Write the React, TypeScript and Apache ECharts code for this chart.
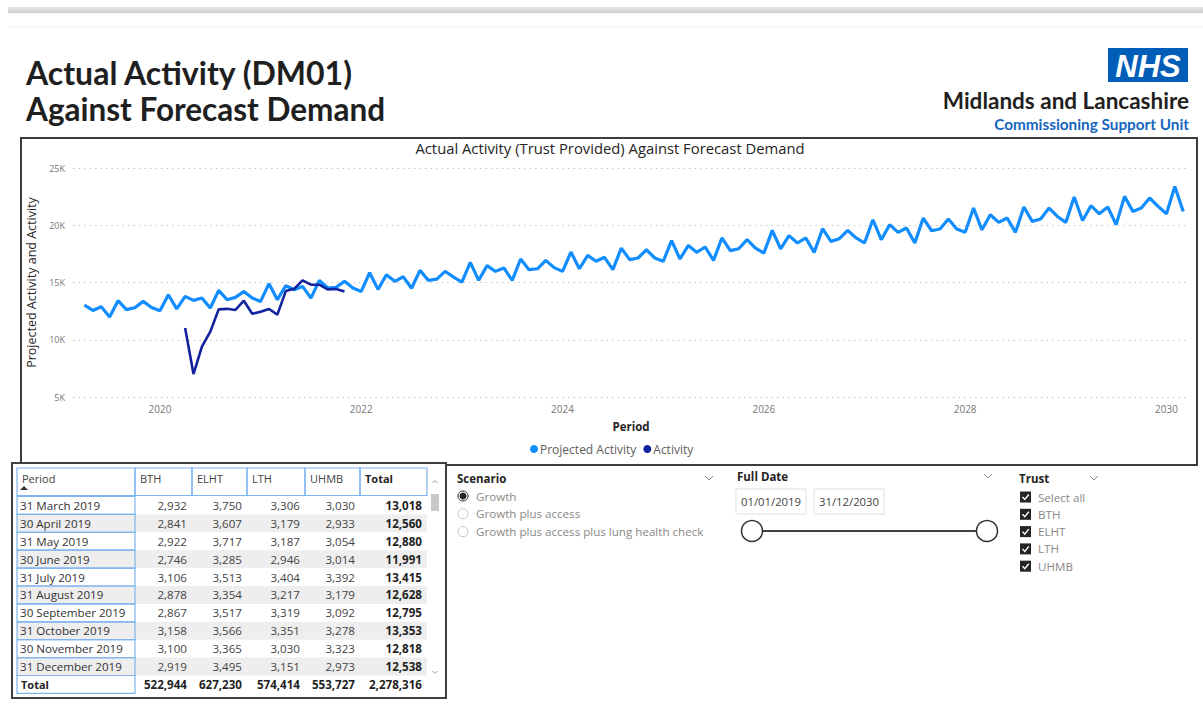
import React, { useEffect, useRef } from "react";
import * as echarts from "echarts";

// ---------- DATA ----------
// Projected activity (Growth scenario), monthly, month-end periods starting 31 March 2019
const projected2019 = [13018, 12560, 12880, 11991, 13415, 12628, 12795, 13353, 12818, 12538]; // Mar-Dec
const projected2020 = [13930, 12700, 13790, 13440, 13640, 12770, 14310, 13500, 13700, 14220, 13640, 13350];
const projected2021 = [14900, 13500, 14720, 14370, 14660, 13640, 15190, 14520, 14580, 15100, 14520, 14220];
const projected2022 = [15850, 14400, 15680, 15100, 15500, 14500, 16060, 15190, 15300, 15970, 15480, 15040];
const projected2023 = [16760, 15190, 16470, 15970, 16270, 15190, 17050, 16120, 16200, 16930, 16300, 15970];
const projected2024 = [17660, 16200, 17370, 16850, 17200, 16120, 18000, 17000, 17140, 17860, 17140, 16850];
const projected2025 = [18650, 17050, 18240, 17630, 18100, 16930, 18890, 17780, 17950, 18740, 18000, 17570];
const projected2026 = [19550, 17930, 19090, 18450, 18890, 17630, 19700, 18590, 18830, 19550, 18890, 18450];
const projected2027 = [20480, 18740, 20050, 19380, 19760, 18450, 20630, 19520, 19670, 20550, 19670, 19380];
const projected2028 = [21500, 19600, 20920, 20250, 20630, 19380, 21590, 20340, 20550, 21500, 20770, 20250];
const projected2029 = [22470, 20420, 21710, 21000, 21590, 20050, 22520, 21210, 21500, 22380, 21650, 21000];
const projected2030 = [23390, 21210]; // Jan-Feb
const projectedStart = { year: 2019, month: 3 };

// Actual activity, monthly, starting 31 March 2020
const activity = [11030, 7000, 9400, 10700, 12650, 12700, 12600, 13410, 12270, 12450, 12690, 12190, 14250, 14450, 15190, 14810, 14810, 14400, 14430, 14220];
const activityStart = { year: 2020, month: 3 };

const xTickYears = [2020, 2022, 2024, 2026, 2028, 2030];
const yTicks = [5000, 10000, 15000, 20000, 25000];

// Table
const tableHeaders = ["Period", "BTH", "ELHT", "LTH", "UHMB", "Total"];
const tablePeriods = ["31 March 2019", "30 April 2019", "31 May 2019", "30 June 2019", "31 July 2019", "31 August 2019", "30 September 2019", "31 October 2019", "30 November 2019", "31 December 2019"];
const tableBTH = [2932, 2841, 2922, 2746, 3106, 2878, 2867, 3158, 3100, 2919];
const tableELHT = [3750, 3607, 3717, 3285, 3513, 3354, 3517, 3566, 3365, 3495];
const tableLTH = [3306, 3179, 3187, 2946, 3404, 3217, 3319, 3351, 3030, 3151];
const tableUHMB = [3030, 2933, 3054, 3014, 3392, 3179, 3092, 3278, 3323, 2973];
const tableTotal = [13018, 12560, 12880, 11991, 13415, 12628, 12795, 13353, 12818, 12538];
const tableGrandTotals = [522944, 627230, 574414, 553727, 2278316];

// Slicers
const scenarios = ["Growth", "Growth plus access", "Growth plus access plus lung health check"];
const trusts = ["Select all", "BTH", "ELHT", "LTH", "UHMB"];
const dateRange = ["01/01/2019", "31/12/2030"];

// ---------- HELPERS ----------
const FONT = "'Open Sans', 'Noto Sans', sans-serif";
const projected = [
  ...projected2019, ...projected2020, ...projected2021, ...projected2022, ...projected2023, ...projected2024,
  ...projected2025, ...projected2026, ...projected2027, ...projected2028, ...projected2029, ...projected2030,
];
const monthEnd = (start: { year: number; month: number }, i: number) => start.year + (start.month + i) / 12;
const fmt = (n: number) => n.toLocaleString("en-GB");

function txt(text: string, x: number, y: number, o: any = {}) {
  return {
    type: "text",
    x,
    y,
    silent: true,
    z: 10,
    style: {
      text,
      fontSize: o.size ?? 11,
      fontFamily: o.family ?? FONT,
      fontWeight: o.weight ?? "normal",
      fontStyle: o.italic ? "italic" : "normal",
      fill: o.color ?? "#252423",
      align: o.align ?? "left",
      verticalAlign: o.va ?? "middle",
    },
  };
}
function rect(x: number, y: number, w: number, h: number, style: any, z = 1) {
  return { type: "rect", silent: true, z, shape: { x, y, width: w, height: h }, style };
}
function chevron(cx: number, cy: number) {
  return {
    type: "polyline",
    silent: true,
    z: 10,
    shape: { points: [[cx - 4, cy - 2], [cx, cy + 2], [cx + 4, cy - 2]] },
    style: { stroke: "#8a8886", lineWidth: 1, fill: "none" },
  };
}

function buildGraphics() {
  const g: any[] = [];
  // top decoration
  g.push(rect(8, 7, 1195, 6, { fill: new echarts.graphic.LinearGradient(0, 0, 0, 1, [{ offset: 0, color: "#e6e6e6" }, { offset: 1, color: "#cfcfcf" }]) }));
  g.push({ type: "line", silent: true, shape: { x1: 8, y1: 27, x2: 1203, y2: 27 }, style: { stroke: "#efefef", lineWidth: 1 } });

  // page titles
  const titleFont = "Lato, 'Open Sans', sans-serif";
  g.push(txt("Actual Activity (DM01)", 26, 72, { size: 32, weight: "bold", family: titleFont, color: "#1f1f1f" }));
  g.push(txt("Against Forecast Demand", 26, 109, { size: 31.5, weight: "bold", family: titleFont, color: "#1f1f1f" }));

  // NHS logo
  g.push(rect(1108, 48, 80, 34, { fill: "#005EB8" }));
  g.push(txt("NHS", 1148, 66, { size: 31, weight: "bold", italic: true, family: "'Liberation Sans', Arial, sans-serif", color: "#ffffff", align: "center" }));
  g.push(txt("Midlands and Lancashire", 1189, 100, { size: 22.5, weight: "bold", family: "Lato, sans-serif", color: "#231f20", align: "right" }));
  g.push(txt("Commissioning Support Unit", 1189, 123.5, { size: 15.3, weight: "bold", family: "Lato, sans-serif", color: "#1565c0", align: "right" }));

  // chart box
  g.push(rect(21, 138, 1176, 327, { fill: "none", stroke: "#3c3c3c", lineWidth: 2 }, 5));
  g.push(txt("Actual Activity (Trust Provided) Against Forecast Demand", 610, 148, { size: 14.8, color: "#252423", align: "center" }));

  // table
  const cols = [17, 135, 192, 247, 305, 360, 427];
  const hTop = 468, hBot = 495.5, rTop = 496.5, rH = 17.9;
  const blue = "#7fb4ee";
  const tfs = 11.6;
  g.push(rect(12, 463, 434, 235, { fill: "#ffffff", stroke: "#404040", lineWidth: 2 }, 6));
  for (let c = 0; c < 6; c++) {
    g.push(rect(cols[c], hTop, cols[c + 1] - cols[c], hBot - hTop, { fill: "none", stroke: blue, lineWidth: 1.2 }, 8));
    g.push(txt(tableHeaders[c], cols[c] + 5, 478, { size: 11, weight: c === 5 ? "bold" : "normal", color: c === 5 ? "#252423" : "#444" }));
  }
  g.push({ type: "polygon", silent: true, z: 10, shape: { points: [[20, 490], [24, 486], [28, 490]] }, style: { fill: "#333" } });
  const numCols = [tableBTH, tableELHT, tableLTH, tableUHMB, tableTotal];
  for (let r = 0; r < tablePeriods.length; r++) {
    const top = rTop + r * rH;
    const cy = top + rH / 2;
    if (r % 2 === 1) g.push(rect(cols[0], top, cols[6] - cols[0], rH, { fill: "#eeeeee" }, 7));
    g.push(rect(cols[0], top, cols[1] - cols[0], rH, { fill: "none", stroke: blue, lineWidth: 1.2 }, 8));
    g.push(txt(tablePeriods[r], cols[0] + 3, cy, { size: tfs, color: "#333" }));
    for (let c = 0; c < 5; c++) {
      g.push(txt(fmt(numCols[c][r]), cols[c + 2] - 5, cy, { size: tfs, align: "right", weight: c === 4 ? "bold" : "normal", color: c === 4 ? "#1f1f1f" : "#444" }));
    }
  }
  const tTop = rTop + tablePeriods.length * rH;
  g.push(rect(cols[0], tTop, cols[1] - cols[0], rH, { fill: "none", stroke: blue, lineWidth: 1.2 }, 8));
  g.push(txt("Total", cols[0] + 4, tTop + rH / 2, { size: 11, weight: "bold" }));
  for (let c = 0; c < 5; c++) {
    g.push(txt(fmt(tableGrandTotals[c]), cols[c + 2] - 5, tTop + rH / 2, { size: tfs, weight: "bold", align: "right", color: "#1f1f1f" }));
  }
  // scrollbar
  g.push(rect(431, 494, 8, 17, { fill: "#c8c8c8" }, 8));
  g.push({ type: "polyline", silent: true, z: 10, shape: { points: [[432.5, 483], [435, 480.5], [437.5, 483]] }, style: { stroke: "#999", lineWidth: 1, fill: "none" } });
  g.push({ type: "polyline", silent: true, z: 10, shape: { points: [[432.5, 671], [435, 673.5], [437.5, 671]] }, style: { stroke: "#999", lineWidth: 1, fill: "none" } });

  // Scenario slicer
  g.push(txt("Scenario", 457, 478, { size: 11.5, weight: "bold", color: "#252423" }));
  g.push(chevron(709, 478));
  scenarios.forEach((s, i) => {
    const cy = 496 + i * 17.8;
    g.push({ type: "circle", silent: true, z: 10, shape: { cx: 463, cy, r: 5 }, style: { fill: "#fff", stroke: i === 0 ? "#252423" : "#c8c6c4", lineWidth: 1 } });
    if (i === 0) g.push({ type: "circle", silent: true, z: 11, shape: { cx: 463, cy, r: 3.5 }, style: { fill: "#252423" } });
    g.push(txt(s, 476, cy, { size: 11.6, color: "#8a8886" }));
  });

  // Full Date slicer
  g.push(txt("Full Date", 737, 476, { size: 11.5, weight: "bold", color: "#252423" }));
  g.push(chevron(988, 476));
  g.push(rect(736, 489, 70, 25, { fill: "#fff", stroke: "#e1dfdd", lineWidth: 1 }, 8));
  g.push(rect(814, 489, 70, 25, { fill: "#fff", stroke: "#e1dfdd", lineWidth: 1 }, 8));
  g.push(txt(dateRange[0], 771, 501.5, { size: 11.3, color: "#444", align: "center" }));
  g.push(txt(dateRange[1], 849, 501.5, { size: 11.3, color: "#444", align: "center" }));
  g.push({ type: "line", silent: true, z: 9, shape: { x1: 752, y1: 531, x2: 987, y2: 531 }, style: { stroke: "#404040", lineWidth: 2 } });
  g.push({ type: "circle", silent: true, z: 10, shape: { cx: 752, cy: 531, r: 10.5 }, style: { fill: "#fff", stroke: "#333", lineWidth: 1.5 } });
  g.push({ type: "circle", silent: true, z: 10, shape: { cx: 987, cy: 531, r: 10.5 }, style: { fill: "#fff", stroke: "#333", lineWidth: 1.5 } });

  // Trust slicer
  g.push(txt("Trust", 1019, 478, { size: 11.5, weight: "bold", color: "#252423" }));
  g.push(chevron(1094, 478));
  trusts.forEach((t, i) => {
    const cy = 497 + i * 17.3;
    g.push(rect(1020, cy - 5.5, 11, 11, { fill: "#252423" }, 9));
    g.push({ type: "polyline", silent: true, z: 10, shape: { points: [[1022.5, cy], [1024.8, cy + 2.5], [1028.8, cy - 2.5]] }, style: { stroke: "#fff", lineWidth: 1.4, fill: "none" } });
    g.push(txt(t, 1038, cy, { size: 11.6, color: "#8a8886" }));
  });
  return g;
}

export default function App() {
  const ref = useRef<HTMLDivElement>(null);
  useEffect(() => {
    if (!ref.current) return;
    const chart = echarts.init(ref.current, null, { renderer: "svg", width: 1203, height: 711 });
    const projData = projected.map((v, i) => [monthEnd(projectedStart, i), v]);
    const actData = activity.map((v, i) => [monthEnd(activityStart, i), v]);
    chart.setOption({
      animation: false,
      backgroundColor: "#ffffff",
      textStyle: { fontFamily: FONT },
      legend: {
        data: ["Projected Activity", "Activity"],
        left: 525,
        top: 438,
        icon: "circle",
        itemWidth: 8,
        itemHeight: 8,
        itemGap: 7,
        textStyle: { fontSize: 12, color: "#605e5c", padding: [0, 0, 0, -3] },
      },
      grid: { left: 73, top: 168, width: 1116, height: 229 },
      xAxis: {
        type: "value",
        min: 2019.136,
        max: 2030.224,
        axisLine: { show: false },
        axisTick: { show: false },
        splitLine: { show: false },
        axisLabel: { customValues: xTickYears, formatter: (v: number) => String(Math.round(v)), color: "#777", fontSize: 10, margin: 7 },
        name: "Period",
        nameLocation: "middle",
        nameGap: 23,
        nameTextStyle: { fontSize: 11.5, fontWeight: "bold", color: "#252423" },
      },
      yAxis: {
        type: "value",
        min: yTicks[0],
        max: yTicks[yTicks.length - 1],
        interval: 5000,
        axisLine: { show: false },
        axisTick: { show: false },
        axisLabel: { formatter: (v: number) => v / 1000 + "K", color: "#777", fontSize: 9, margin: 8 },
        splitLine: { lineStyle: { type: [1.5, 4], color: "#c8c8c8", width: 1 } },
        name: "Projected Activity and Activity",
        nameLocation: "middle",
        nameGap: 35,
        nameTextStyle: { fontSize: 12.5, color: "#252423" },
      },
      series: [
        { name: "Projected Activity", type: "line", data: projData, showSymbol: false, color: "#118DFF", lineStyle: { width: 3.2, color: "#118DFF" }, z: 2 },
        { name: "Activity", type: "line", data: actData, showSymbol: false, color: "#12239E", lineStyle: { width: 2.6, color: "#12239E" }, z: 3 },
      ],
      graphic: buildGraphics(),
    });
    return () => chart.dispose();
  }, []);
  return <div ref={ref} style={{ position: "fixed", left: 0, top: 0, width: 1203, height: 711, background: "#fff" }} />;
}
